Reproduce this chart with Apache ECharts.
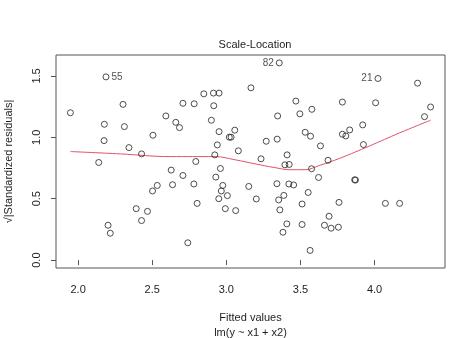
<!DOCTYPE html>
<html>
<head>
<meta charset="utf-8">
<script src="https://cdn.jsdelivr.net/npm/echarts@6/dist/echarts.min.js"></script>
<style>
  html, body { margin: 0; padding: 0; background: #fff; }
  #chart { width: 474px; height: 338px; }
</style>
</head>
<body>
<div id="chart"></div>
<script>
// Fitted values of lm(y ~ x1 + x2)
const fittedValues = [
  2.188, 1.948, 2.303, 2.177, 2.312, 2.592, 2.659, 2.684, 2.505, 2.175,
  2.343, 2.428, 3.357, 2.848, 2.913, 2.951, 3.166, 2.707, 2.783, 2.915,
  3.469, 3.496, 3.346, 2.899, 2.951, 3.057, 3.020, 3.032, 2.939, 3.081,
  2.922, 3.269, 3.343, 3.410, 3.234, 4.023, 4.290, 3.577, 3.783, 4.007,
  4.378, 4.337, 3.532, 3.568, 3.783, 3.806, 3.832, 3.920, 3.635, 3.925,
  3.686, 2.139, 2.628, 2.534, 2.502, 2.637, 2.392, 2.468, 2.428, 2.202,
  2.217, 2.794, 3.395, 3.424, 2.707, 2.960, 2.929, 2.781, 2.976, 2.966,
  3.007, 2.949, 3.151, 3.202, 3.341, 3.422, 3.454, 3.388, 3.353, 3.361,
  2.803, 2.993, 3.063, 3.408, 3.382, 2.740, 3.575, 3.622, 3.866, 3.871,
  3.552, 3.511, 3.760, 4.073, 4.169, 3.693, 3.511, 3.662, 3.707, 3.756,
  3.565
];

// sqrt(|standardized residuals|), same order as fittedValues
const sqrtStdResid = [
  1.492, 1.200, 1.268, 1.106, 1.087, 1.174, 1.122, 1.079, 1.017, 0.973,
  0.916, 0.865, 1.606, 1.354, 1.360, 1.360, 1.403, 1.277, 1.273, 1.257,
  1.295, 1.191, 1.174, 1.139, 1.046, 1.058, 1.001, 1.001, 0.938, 0.890,
  0.857, 0.968, 0.985, 0.857, 0.825, 1.479, 1.441, 1.228, 1.287, 1.281,
  1.247, 1.168, 1.041, 1.009, 1.025, 1.011, 1.060, 1.101, 0.930, 0.941,
  0.813, 0.795, 0.733, 0.608, 0.563, 0.614, 0.419, 0.397, 0.322, 0.284,
  0.219, 0.803, 0.776, 0.779, 0.689, 0.746, 0.676, 0.620, 0.608, 0.563,
  0.525, 0.500, 0.600, 0.498, 0.622, 0.620, 0.612, 0.527, 0.490, 0.409,
  0.462, 0.419, 0.403, 0.295, 0.227, 0.141, 0.744, 0.673, 0.654, 0.652,
  0.551, 0.457, 0.470, 0.462, 0.462, 0.357, 0.290, 0.284, 0.260, 0.268,
  0.079
];

// Observations flagged with their row names: [index into the arrays, name]
const flaggedPoints = [[0, '55'], [12, '82'], [35, '21']];

// Smoothed trend through the points
const smoothX = [1.948, 2.285, 2.622, 2.924, 3.059, 3.193, 3.328, 3.429, 3.530, 3.631, 3.765, 3.967, 4.169, 4.378];
const smoothY = [0.884, 0.865, 0.843, 0.843, 0.817, 0.784, 0.753, 0.736, 0.736, 0.772, 0.829, 0.930, 1.036, 1.139];

// Axis ticks
const xTicks = [2.0, 2.5, 3.0, 3.5, 4.0];
const yTicks = [0.0, 0.5, 1.0, 1.5];

const FONT = 'Liberation Sans, Arial, Helvetica, sans-serif';
const INK = '#1e1e1e';
const FRAME = '#555555';

// Usual R plot region: data range widened by 4% on each side
function padRange(lo, hi) {
  const d = (hi - lo) * 0.04;
  return [lo - d, hi + d];
}
const xr = padRange(Math.min(...fittedValues), Math.max(...fittedValues));
const yr = padRange(0, Math.max(...sqrtStdResid));
const midX = (xr[0] + xr[1]) / 2;

const flagMap = new Map(flaggedPoints);
const pointData = fittedValues.map((x, i) => {
  const item = { value: [x, sqrtStdResid[i]] };
  if (flagMap.has(i)) {
    item.label = {
      show: true,
      formatter: flagMap.get(i),
      position: x > midX ? 'left' : 'right',
      distance: 2,
      fontSize: 10,
      fontFamily: FONT,
      color: INK
    };
  }
  return item;
});

const chart = echarts.init(document.getElementById('chart'), null, { renderer: 'canvas' });
chart.setOption({
  animation: false,
  backgroundColor: '#ffffff',
  title: {
    text: 'Scale-Location',
    left: 250,
    top: 34,
    textAlign: 'center',
    textStyle: { fontSize: 11, fontWeight: 'normal', fontFamily: FONT, color: INK }
  },
  grid: {
    left: 56, right: 29, top: 55, bottom: 70,
    outerBoundsMode: 'none',
    containLabel: false,
    show: true, borderColor: FRAME, borderWidth: 1, backgroundColor: 'transparent'
  },
  xAxis: {
    type: 'value',
    min: xr[0], max: xr[1],
    name: 'Fitted values\nlm(y ~ x1 + x2)',
    nameLocation: 'middle',
    nameGap: 42,
    nameTextStyle: { fontSize: 11, fontFamily: FONT, color: INK, lineHeight: 15, verticalAlign: 'top' },
    axisLine: { show: false },
    splitLine: { show: false },
    axisTick: { show: true, length: 5, lineStyle: { color: FRAME }, customValues: xTicks },
    axisLabel: {
      customValues: xTicks, margin: 16,
      fontSize: 11, fontFamily: FONT, color: INK,
      formatter: v => v.toFixed(1)
    }
  },
  yAxis: {
    type: 'value',
    min: yr[0], max: yr[1],
    name: '\u221A|Standardized residuals|',
    nameLocation: 'middle',
    nameRotate: 90,
    nameGap: 42,
    nameTextStyle: { fontSize: 11, fontFamily: FONT, color: INK },
    axisLine: { show: false },
    splitLine: { show: false },
    axisTick: { show: true, length: 5, lineStyle: { color: FRAME }, customValues: yTicks },
    axisLabel: {
      customValues: yTicks, margin: 14, rotate: 90,
      fontSize: 11, fontFamily: FONT, color: INK,
      formatter: v => v.toFixed(1)
    }
  },
  series: [
    {
      type: 'line',
      data: smoothX.map((x, i) => [x, smoothY[i]]),
      smooth: 0.4,
      showSymbol: false,
      symbol: 'none',
      lineStyle: { color: '#DF536B', width: 1 },
      z: 1
    },
    {
      type: 'scatter',
      data: pointData,
      symbol: 'circle',
      symbolSize: 6,
      itemStyle: { color: 'rgba(0,0,0,0)', borderColor: '#222222', borderWidth: 1 },
      z: 2
    }
  ]
});
</script>
</body>
</html>
